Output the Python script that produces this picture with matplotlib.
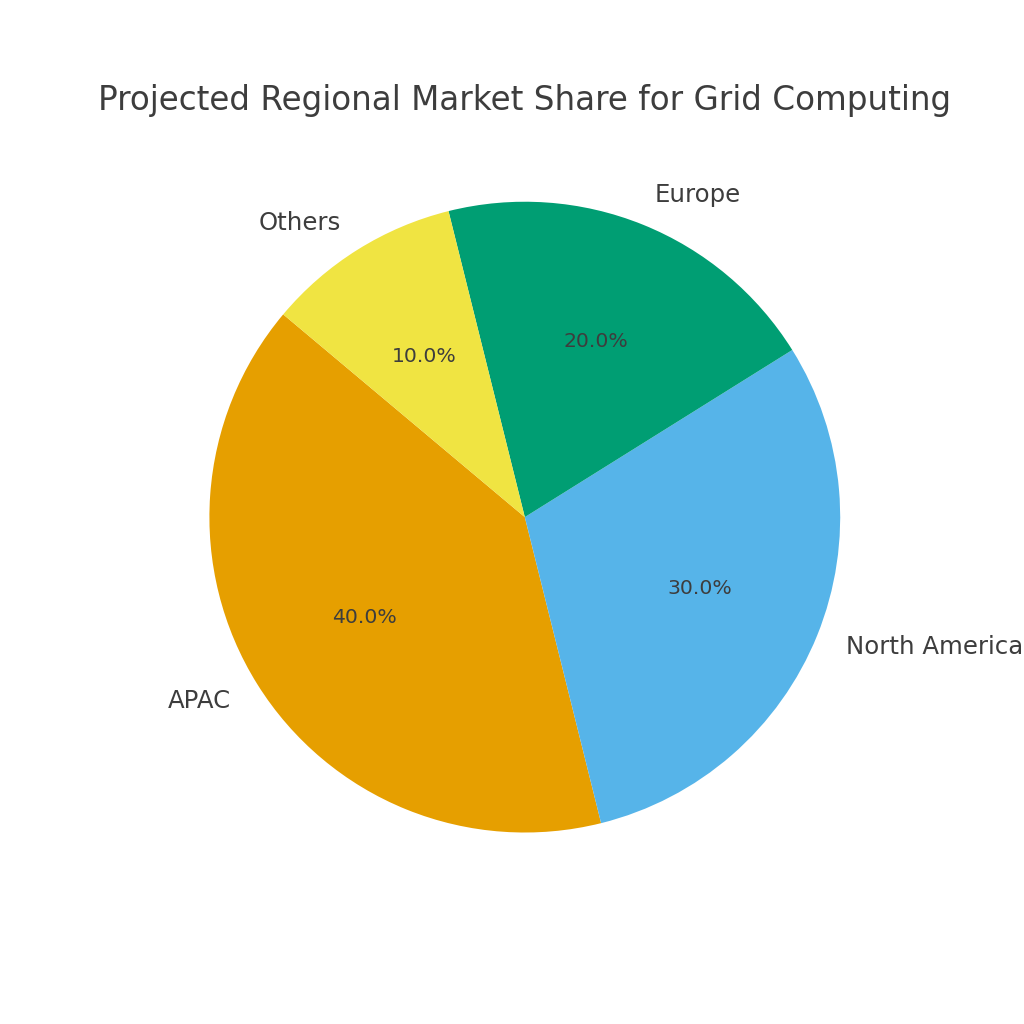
import matplotlib.pyplot as plt

regions = ['APAC', 'North America', 'Europe', 'Others']
shares = [40, 30, 20, 10]
colors = ['#E69F00', '#56B4E9', '#009E73', '#F0E442']

fig, ax = plt.subplots(figsize=(10.24, 10.24), dpi=100)

wedges, texts, autotexts = ax.pie(shares, labels=regions, colors=colors,
                                  autopct='%1.1f%%', startangle=140,
                                  textprops={'color': '#3d3d3d'})
for t in texts:
    t.set_fontsize(17.6)
for t in autotexts:
    t.set_fontsize(14.7)

ax.set_title('Projected Regional Market Share for Grid Computing',
             fontsize=23.5, color='#3d3d3d', pad=9)

plt.savefig('out.png')
